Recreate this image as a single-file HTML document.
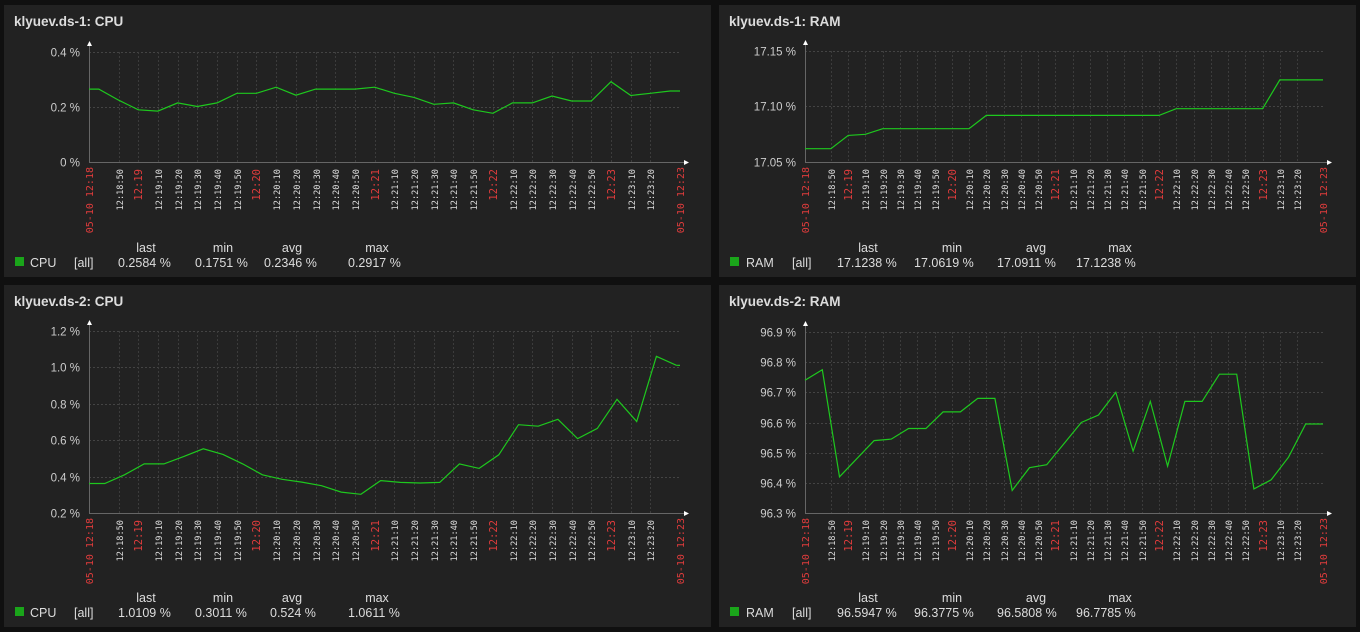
<!DOCTYPE html>
<html><head><meta charset="utf-8"><style>
html,body{margin:0;padding:0;background:#101010;}
svg{display:block;}
text{font-family:"Liberation Sans",sans-serif;}
.mono{font-family:"DejaVu Sans Mono","Liberation Mono",monospace;}
</style></head><body>
<svg id="dash" width="1360" height="632" viewBox="0 0 1360 632" xmlns="http://www.w3.org/2000/svg"></svg>
<script>
// ---- chart data ----
const cpu1Times = [0,5,15,25,35,45,55,65,75,85,95,105,115,125,135,145,155,165,175,185,195,205,215,225,235,245,255,265,275,285,295,300];
const cpu1Values = [0.265,0.265,0.225,0.19,0.185,0.215,0.202,0.215,0.25,0.25,0.272,0.243,0.265,0.265,0.265,0.272,0.25,0.235,0.21,0.215,0.19,0.177,0.215,0.215,0.24,0.222,0.222,0.292,0.242,0.25,0.258,0.258];
const ram1Times = [0,5,15,25,35,45,55,65,75,85,95,105,115,125,135,145,155,165,175,185,195,205,215,225,235,245,255,265,275,285,295,300];
const ram1Values = [17.062,17.062,17.062,17.074,17.075,17.080,17.080,17.080,17.080,17.080,17.080,17.092,17.092,17.092,17.092,17.092,17.092,17.092,17.092,17.092,17.092,17.092,17.098,17.098,17.098,17.098,17.098,17.098,17.124,17.124,17.124,17.124];
const cpu2Times = [0,8,18,28,38,48,58,68,78,88,98,108,118,128,138,148,158,168,178,188,198,208,218,228,238,248,258,268,278,288,298,300];
const cpu2Values = [0.362,0.362,0.41,0.47,0.47,0.51,0.553,0.522,0.47,0.41,0.385,0.37,0.35,0.315,0.303,0.378,0.368,0.365,0.368,0.47,0.445,0.52,0.685,0.677,0.715,0.608,0.665,0.825,0.703,1.061,1.012,1.011];
const ram2Times = [0,10,20,30,40,50,60,70,80,90,100,110,120,130,140,150,160,170,180,190,200,210,220,230,240,250,260,270,280,290,300];
const ram2Values = [96.74,96.775,96.42,96.48,96.54,96.545,96.58,96.58,96.635,96.635,96.68,96.68,96.375,96.45,96.46,96.53,96.6,96.625,96.7,96.505,96.67,96.455,96.67,96.67,96.76,96.76,96.38,96.41,96.485,96.595,96.595];
const cpu1Ticks = [0,0.2,0.4];
const cpu1TickLabels = ["0 %","0.2 %","0.4 %"];
const ram1Ticks = [17.05,17.10,17.15];
const ram1TickLabels = ["17.05 %","17.10 %","17.15 %"];
const cpu2Ticks = [0.2,0.4,0.6,0.8,1.0,1.2];
const cpu2TickLabels = ["0.2 %","0.4 %","0.6 %","0.8 %","1.0 %","1.2 %"];
const ram2Ticks = [96.3,96.4,96.5,96.6,96.7,96.8,96.9];
const ram2TickLabels = ["96.3 %","96.4 %","96.5 %","96.6 %","96.7 %","96.8 %","96.9 %"];
const timeTickSeconds = [15,25,35,45,55,65,75,85,95,105,115,125,135,145,155,165,175,185,195,205,215,225,235,245,255,265,275,285];
const timeTickLabels = ["12:18:50","12:19","12:19:10","12:19:20","12:19:30","12:19:40","12:19:50","12:20","12:20:10","12:20:20","12:20:30","12:20:40","12:20:50","12:21","12:21:10","12:21:20","12:21:30","12:21:40","12:21:50","12:22","12:22:10","12:22:20","12:22:30","12:22:40","12:22:50","12:23","12:23:10","12:23:20"];
const cpu1Legend = ["CPU","[all]","0.2584 %","0.1751 %","0.2346 %","0.2917 %"];
const ram1Legend = ["RAM","[all]","17.1238 %","17.0619 %","17.0911 %","17.1238 %"];
const cpu2Legend = ["CPU","[all]","1.0109 %","0.3011 %","0.524 %","1.0611 %"];
const ram2Legend = ["RAM","[all]","96.5947 %","96.3775 %","96.5808 %","96.7785 %"];

const NS="http://www.w3.org/2000/svg";
const svg=document.getElementById('dash');
function mk(tag,attrs,parent,txt){const e=document.createElementNS(NS,tag);for(const k in attrs)e.setAttribute(k,attrs[k]);if(txt!==undefined)e.textContent=txt;(parent||svg).appendChild(e);return e;}

function chart(o){
  const g=mk('g',{});
  
  
  const bg=mk('rect',{x:o.px,y:o.py,width:o.pw,height:o.ph,fill:'#222222'},g);
  
  
  const t=mk('text',{x:o.px+10,y:o.py+21,'font-size':'13.5','font-weight':'bold',fill:'#dddddd'},g,o.title);
  
  
  const x=s=>o.x0+(s/300)*(o.x1-o.x0);
  const y=v=>o.yb-(v-o.ymin)/(o.ymax-o.ymin)*(o.yb-o.yt);
  o.ticks.forEach((v,i)=>{
    const yy=Math.round(y(v))+0.5;
    if(i>0){const l=mk('line',{x1:o.x0,x2:o.x1,y1:yy,y2:yy,stroke:'#444','stroke-dasharray':'2,2'},g);
      
      }
    const tl=mk('text',{x:o.x0-9,y:yy+4,'font-size':'11.5','text-anchor':'end',fill:'#cccccc'},g,o.tickLabels[i]);
    
    
  });
  timeTickSeconds.forEach((s,i)=>{
    const xx=Math.round(x(s))+0.5;
    const l=mk('line',{x1:xx,x2:xx,y1:o.yt,y2:o.yb,stroke:'#3c3c3c','stroke-dasharray':'2,2'},g);
    
    
    const lab=timeTickLabels[i];const red=lab.length===5;
    const tl=mk('text',{x:0,y:0,'class':'mono','font-size':red?'10.5':'8.6','text-anchor':'end',fill:red?'#e03c3c':'#dddddd',transform:`translate(${xx+3.5},${o.yb+7}) rotate(-90)`},g,lab);
    
    
  });
  [[0,'05-10 12:18'],[300,'05-10 12:23']].forEach(([s,lab])=>{
    const tl=mk('text',{x:0,y:0,'class':'mono','font-size':'10','text-anchor':'end',fill:'#e03c3c',transform:`translate(${x(s)+4},${o.yb+5}) rotate(-90)`},g,lab);
    
    
  });
  const ax=mk('path',{d:`M${o.x0+0.5},${o.yt-8} V${o.yb+0.5} H${o.x1+4}`,stroke:'#666',fill:'none'},g);
  
  
  const a1=mk('path',{d:`M${o.x0-2},${o.yt-6} L${o.x0+0.5},${o.yt-11} L${o.x0+3},${o.yt-6}Z`,fill:'#fff'},g);
  
  
  const a2=mk('path',{d:`M${o.x1+4},${o.yb-2} L${o.x1+9},${o.yb+0.5} L${o.x1+4},${o.yb+3}Z`,fill:'#fff'},g);
  
  
  const d=o.times.map((s,i)=>(i?'L':'M')+x(s).toFixed(1)+','+y(o.values[i]).toFixed(1)).join(' ');
  const ln=mk('path',{d:d,stroke:'#1ec81e','stroke-width':'1.2',fill:'none'},g);
  
  
  const ly=o.py+o.ph-10;
  const sq=mk('rect',{x:o.px+11,y:ly-10,width:9,height:9,fill:'#1aa51a'},g);
  
  
  const cols=o.legendX;
  ['last','min','avg','max'].forEach((h,i)=>{
    const ht=mk('text',{x:o.headX[i],y:ly-15,'font-size':'12.5','text-anchor':'middle',fill:'#dddddd'},g,h);
    
    
  });
  o.legend.forEach((v,i)=>{
    const lt=mk('text',{x:cols[i],y:ly,'font-size':'12.5',fill:'#dddddd'},g,v);
    
    
  });
}

chart({name:'ds1-cpu-chart',title:'klyuev.ds-1: CPU',px:4,py:5,pw:707,ph:272,x0:89,x1:680,yt:52,yb:162,ymin:0,ymax:0.4,ticks:cpu1Ticks,tickLabels:cpu1TickLabels,times:cpu1Times,values:cpu1Values,legend:cpu1Legend,legendX:[30,74,118,195,264,348],headX:[146,223,292,377]});
chart({name:'ds1-ram-chart',title:'klyuev.ds-1: RAM',px:719,py:5,pw:637,ph:272,x0:805,x1:1323,yt:51,yb:162,ymin:17.05,ymax:17.15,ticks:ram1Ticks,tickLabels:ram1TickLabels,times:ram1Times,values:ram1Values,legend:ram1Legend,legendX:[746,792,837,914,997,1076],headX:[868,952,1036,1120]});
chart({name:'ds2-cpu-chart',title:'klyuev.ds-2: CPU',px:4,py:285,pw:707,ph:342,x0:89,x1:680,yt:331,yb:513,ymin:0.2,ymax:1.2,ticks:cpu2Ticks,tickLabels:cpu2TickLabels,times:cpu2Times,values:cpu2Values,legend:cpu2Legend,legendX:[30,74,118,195,270,348],headX:[146,223,292,377]});
chart({name:'ds2-ram-chart',title:'klyuev.ds-2: RAM',px:719,py:285,pw:637,ph:342,x0:805,x1:1323,yt:332,yb:513,ymin:96.3,ymax:96.9,ticks:ram2Ticks,tickLabels:ram2TickLabels,times:ram2Times,values:ram2Values,legend:ram2Legend,legendX:[746,792,837,914,997,1076],headX:[868,952,1036,1120]});
</script>
</body></html>
